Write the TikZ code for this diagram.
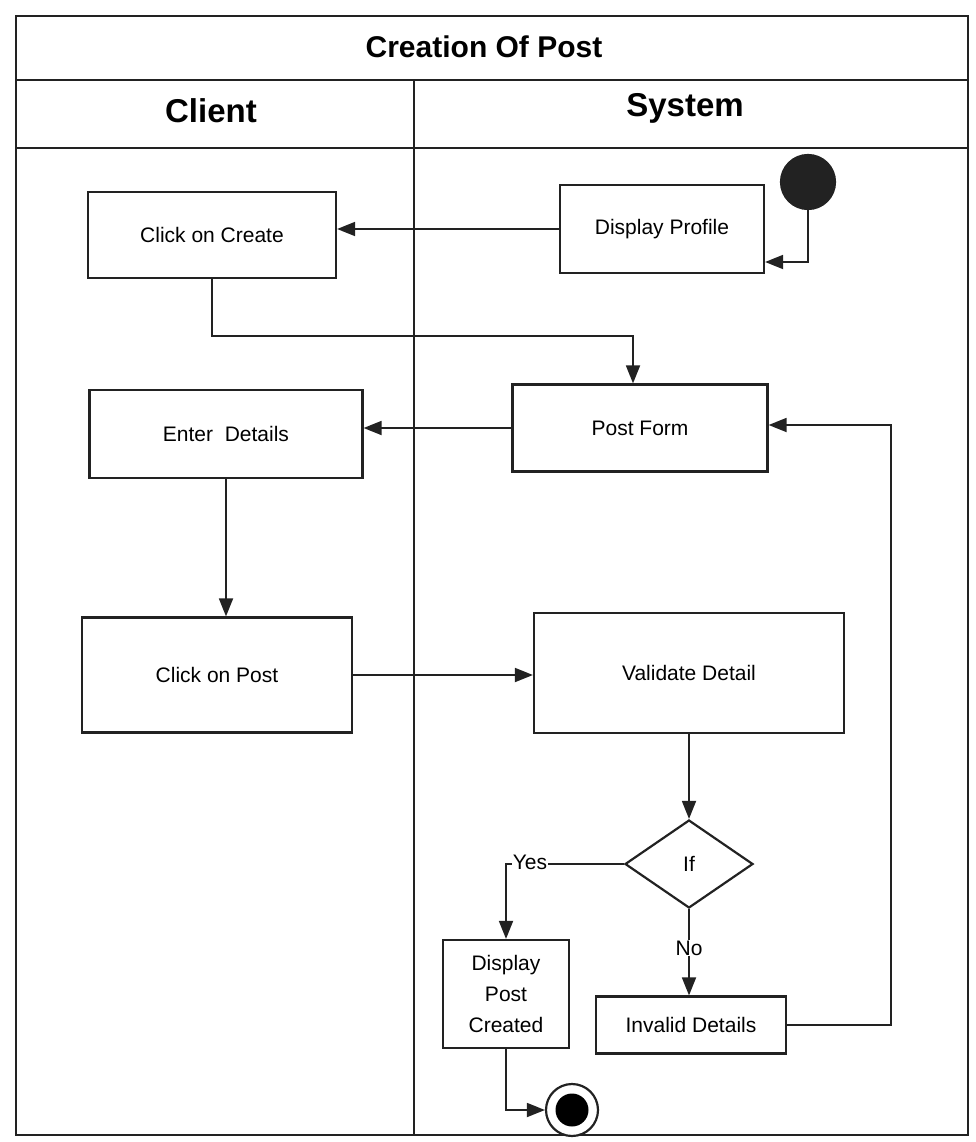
\documentclass[tikz,border=0pt]{standalone}
\usepackage{fontspec}
\setmainfont{Liberation Sans}
\usetikzlibrary{arrows.meta,shapes.geometric,calc}
\definecolor{ink}{HTML}{222222}
\begin{document}
\begin{tikzpicture}[x=1pt,y=-1pt,
  line width=2.2pt, draw=ink,
  box/.style={draw=ink, rectangle, line width=2.2pt, align=center, font=\fontsize{21}{31}\selectfont, inner sep=2pt},
  flow/.style={draw=ink, line width=1.8pt, -{Triangle[length=18pt,width=14pt]}},
  lbl/.style={font=\fontsize{21}{25}\selectfont, fill=white, inner sep=1pt}]
\useasboundingbox (0,0) rectangle (975,1142);
% frame
\draw[ink] (16,16) rectangle (968,1135);
\draw[ink] (16,80) -- (968,80);
\draw[ink] (16,148) -- (968,148);
\draw[ink] (414,80) -- (414,1135);
\node[font=\fontsize{30}{34}\selectfont\bfseries] (title) at (484,47) {Creation Of Post};
\node[font=\fontsize{33}{38}\selectfont\bfseries] (client) at (211,111) {Client};
\node[font=\fontsize{33}{38}\selectfont\bfseries] (system) at (685,108) {System};
% nodes
\node[box, minimum width=248pt, minimum height=86pt] (cc) at (212,235) {Click on Create};
\node[box, minimum width=204pt, minimum height=88pt] (dp) at (662,229) {Display Profile};
\node[circle, fill=ink, draw=ink, minimum size=54pt, inner sep=0pt] (start) at (808,182) {};
\node[box, minimum width=255pt, minimum height=87pt] (pf) at (640,428) {Post Form};
\node[box, minimum width=273pt, minimum height=88pt] (ed) at (226,434) {Enter\ \ Details};
\node[box, minimum width=270pt, minimum height=115pt] (cp) at (217,675) {Click on Post};
\node[box, minimum width=310pt, minimum height=120pt] (vd) at (689,673) {Validate Detail};
\node[diamond, draw=ink, line width=2.2pt, minimum width=128pt, minimum height=88pt, inner sep=0pt, font=\fontsize{21}{25}\selectfont] (if) at (689,864) {If};
\node[box, minimum width=126pt, minimum height=108pt] (dpc) at (506,994) {Display\\Post\\Created};
\node[box, minimum width=190pt, minimum height=57pt] (id) at (691,1025) {Invalid Details};
\node[circle, draw=ink, line width=2.2pt, fill=white, minimum size=52pt, inner sep=0pt] (end) at (572,1110) {};
\node[circle, fill=black, minimum size=33pt, inner sep=0pt] (endin) at (end.center) {};
% connectors
\draw[flow] (start.south) |- ([yshift=-33pt]dp.east);
\draw[flow] (dp.west) -- (dp.west -| cc.east);
\draw[flow] (cc.south) -- ++(0,57) -| ([xshift=-7pt]pf.north);
\draw[flow] (pf.west) -- (pf.west -| ed.east);
\draw[flow] (ed.south) -- (ed.south |- cp.north);
\draw[flow] (cp.east) -- (cp.east -| vd.west);
\draw[flow] (vd.south) -- (if.north);
\draw[flow] (if.west) -| (dpc.north);
\node[lbl] (yes) at (530,862) {Yes};
\draw[flow] (if.south) -- (if.south |- id.north);
\node[lbl] (no) at (689,948) {No};
\draw[flow] (id.east) -- ++(104,0) |- ([yshift=3pt]pf.east);
\draw[flow] (dpc.south) |- (end.west);
\end{tikzpicture}
\end{document}
